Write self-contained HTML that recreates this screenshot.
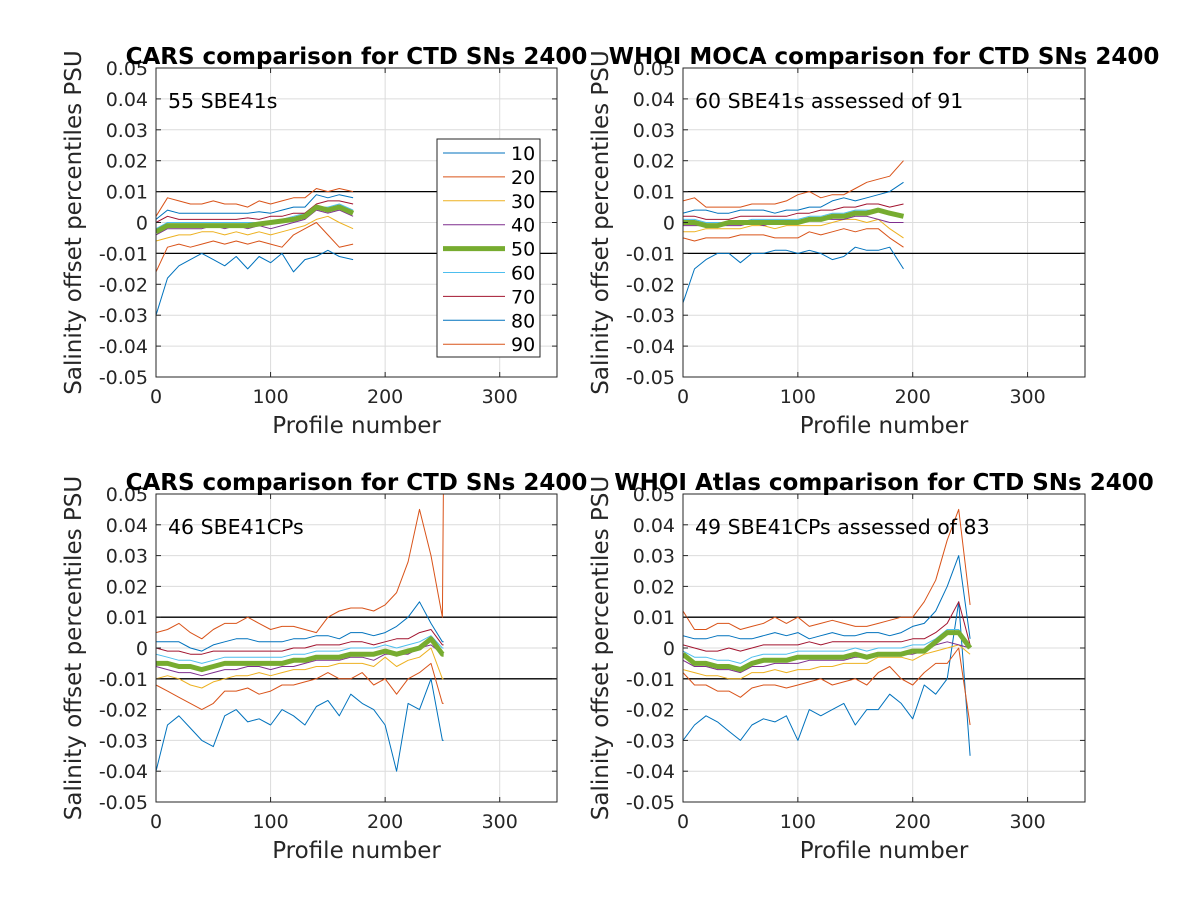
<!DOCTYPE html>
<html><head><meta charset="utf-8"><style>
html,body{margin:0;padding:0;background:#fff;}
svg{display:block;font-family:"DejaVu Sans","Liberation Sans",sans-serif;}
</style></head>
<body>
<svg id="fig" width="1200" height="900" viewBox="0 0 1200 900"></svg>
<script>
// ---------- data (units of 0.001 PSU) ----------
const pctLabels = ['10','20','30','40','50','60','70','80','90'];
const pctColors = ['#0072BD','#D95319','#EDB120','#7E2F8E','#77AC30','#4DBEEE','#A2142F','#0072BD','#D95319'];
const xTicks = [0,100,200,300];
const yTicks = [-0.05,-0.04,-0.03,-0.02,-0.01,0,0.01,0.02,0.03,0.04,0.05];
const yTickLabels = ['-0.05','-0.04','-0.03','-0.02','-0.01','0','0.01','0.02','0.03','0.04','0.05'];

const xA = [0,10,20,30,40,50,60,70,80,90,100,110,120,130,140,150,160,172];
const A10 = [-30,-18,-14,-12,-10,-12,-14,-11,-15,-11,-13,-10,-16,-12,-11,-9,-11,-12];
const A20 = [-16,-8,-7,-8,-7,-6,-7,-6,-7,-6,-7,-8,-4,-2,0,-4,-8,-7];
const A30 = [-6,-5,-4,-4,-3,-3,-4,-3,-4,-3,-4,-3,-2,-1,1,2,0,-2];
const A40 = [-4,-2,-2,-2,-2,-1,-2,-1,-2,-1,-2,-1,0,1,4,3,4,2];
const A50 = [-3,-1,-1,-1,-1,-1,-1,-1,-1,-0.5,0,0.5,1,2,5,4,5,3];
const A60 = [-2,0,0,0,0,0,0,0,0,0,0.5,1,2,3,5,5,6,4];
const A70 = [0,2,1,1,1,1,1,1,1.5,1,2,2,3,3,6,7,7,6];
const A80 = [1,4,3,3,3,3,3,3,3,3.5,3,4,5,5,9,8,9,8];
const A90 = [2,8,7,6,6,7,6,6,5,7,6,7,8,8,11,10,11,10];

const xB = [0,10,20,30,40,50,60,70,80,90,100,110,120,130,140,150,160,170,180,192];
const B10 = [-26,-15,-12,-10,-10,-13,-10,-10,-9,-9,-10,-9,-10,-12,-11,-8,-9,-9,-8,-15];
const B20 = [-5,-6,-5,-5,-5,-4,-4,-4,-5,-5,-5,-3,-4,-3,-2,-3,-2,-2,-5,-8];
const B30 = [-3,-3,-2,-2,-2,-2,-1,-1,-2,-1,-1,-1,-1,0,1,1,0,1,-2,-5];
const B40 = [-1,-1,-1,-1,-1,-1,0,-1,0,0,0,1,1,1,1,2,2,1,0,0];
const B50 = [0,0,-1,-1,0,0,0,0,0,0,0,1,1,2,2,3,3,4,3,2];
const B60 = [1,1,0,0,0,0,1,1,1,1,1,2,2,3,3,4,4,4,3,2];
const B70 = [2,2,1,1,1,2,2,2,2,2,3,3,4,4,5,5,6,6,5,6];
const B80 = [3,4,4,3,3,4,4,4,3,4,4,5,5,7,8,7,8,9,10,13];
const B90 = [7,8,5,5,5,5,6,6,6,7,9,10,8,9,9,11,13,14,15,20];

const xC = [0,10,20,30,40,50,60,70,80,90,100,110,120,130,140,150,160,170,180,190,200,210,220,230,240,250,251];
const C10 = [-40,-25,-22,-26,-30,-32,-22,-20,-24,-23,-25,-20,-22,-25,-19,-17,-22,-15,-18,-20,-25,-40,-18,-20,-10,-30,-30];
const C20 = [-12,-14,-16,-18,-20,-18,-14,-14,-13,-15,-14,-12,-12,-11,-10,-8,-10,-10,-8,-12,-10,-15,-10,-8,-5,-18,-18];
const C30 = [-10,-9,-10,-12,-13,-11,-10,-9,-9,-8,-9,-8,-7,-7,-6,-6,-5,-5,-5,-6,-3,-6,-4,-3,0,-10,-10];
const C40 = [-6,-7,-8,-8,-9,-8,-7,-7,-6,-6,-7,-6,-6,-5,-4,-4,-4,-3,-3,-4,-2,-2,-2,0,1,-2,-2];
const C50 = [-5,-5,-6,-6,-7,-6,-5,-5,-5,-5,-5,-5,-4,-4,-3,-3,-3,-2,-2,-2,-1,-2,-1,0,3,-2,-2];
const C60 = [-2,-3,-4,-4,-5,-4,-3,-3,-3,-3,-3,-3,-2,-2,-1,-1,-1,0,0,0,1,0,1,2,4,0,0];
const C70 = [0,-1,-1,-2,-2,-1,-1,-1,-1,-1,-1,-1,0,0,1,1,1,2,2,1,2,3,3,5,6,1,1];
const C80 = [2,2,2,0,-1,1,2,3,3,2,2,2,3,3,4,4,3,5,5,4,5,7,10,15,8,2,2];
const C90 = [5,6,8,5,3,6,8,8,10,8,6,7,7,6,5,10,12,13,13,12,14,18,28,45,30,10,60];

const xD = [0,10,20,30,40,50,60,70,80,90,100,110,120,130,140,150,160,170,180,190,200,210,220,230,240,250];
const D10 = [-30,-25,-22,-24,-27,-30,-25,-23,-24,-22,-30,-20,-22,-20,-18,-25,-20,-20,-15,-18,-23,-12,-15,-10,15,-35];
const D20 = [-8,-12,-12,-14,-14,-16,-13,-12,-12,-13,-12,-11,-10,-12,-11,-10,-12,-8,-6,-10,-12,-8,-5,-5,0,-25];
const D30 = [-7,-8,-9,-9,-10,-10,-8,-8,-7,-8,-7,-7,-6,-6,-5,-5,-5,-3,-3,-3,-4,-2,-1,0,1,-2];
const D40 = [-4,-6,-6,-7,-7,-8,-6,-6,-5,-5,-5,-4,-4,-4,-4,-3,-3,-2,-2,-2,-2,-1,1,2,1,0];
const D50 = [-2,-5,-5,-6,-6,-7,-5,-4,-4,-4,-3,-3,-3,-3,-3,-2,-3,-2,-2,-2,-1,-1,2,5,5,0];
const D60 = [-1,-3,-3,-4,-4,-5,-3,-2,-2,-2,-1,-1,-1,-1,-1,0,-1,0,0,0,1,1,3,6,6,1];
const D70 = [1,0,-1,-1,0,-1,0,1,1,1,1,2,1,2,2,2,2,2,2,2,3,3,5,8,15,1];
const D80 = [4,3,3,4,4,3,3,4,5,4,5,3,4,5,4,4,5,5,4,5,7,8,12,20,30,3];
const D90 = [12,6,6,8,8,6,7,8,10,8,10,7,8,9,8,7,7,8,9,10,10,15,22,35,45,14];

const panels = [
 {name:'cars-sbe41',title:'CARS comparison for CTD SNs 2400',note:'55 SBE41s',box:[156,68,557,377],x:xA,s:[A10,A20,A30,A40,A50,A60,A70,A80,A90],legend:true},
 {name:'moca-sbe41',title:'WHOI MOCA comparison for CTD SNs 2400',note:'60 SBE41s assessed of 91',box:[683,68,1085,377],x:xB,s:[B10,B20,B30,B40,B50,B60,B70,B80,B90]},
 {name:'cars-sbe41cp',title:'CARS comparison for CTD SNs 2400',note:'46 SBE41CPs',box:[156,494,557,802],x:xC,s:[C10,C20,C30,C40,C50,C60,C70,C80,C90]},
 {name:'atlas-sbe41cp',title:'WHOI Atlas comparison for CTD SNs 2400',note:'49 SBE41CPs assessed of 83',box:[683,494,1085,802],x:xD,s:[D10,D20,D30,D40,D50,D60,D70,D80,D90]}
];

const NS='http://www.w3.org/2000/svg';
const svg=document.getElementById('fig');
function mk(tag,attrs,parent){const e=document.createElementNS(NS,tag);for(const k in attrs)e.setAttribute(k,attrs[k]);(parent||svg).appendChild(e);return e;}
const defs=mk('defs',{});

panels.forEach((p,pi)=>{
  const [L,T,R,B]=p.box;
  const xS=v=>L+(v/350)*(R-L);
  const yS=v=>B-((v+0.05)/0.1)*(B-T);
  const g=mk('g',{});
  
  
  const cp=mk('clipPath',{id:'clip'+pi},defs);
  mk('rect',{x:L,y:T,width:R-L,height:B-T},cp);
  xTicks.forEach(t=>{const l=mk('line',{x1:xS(t),x2:xS(t),y1:T,y2:B,stroke:'#dcdcdc','stroke-width':1},g);
    });
  yTicks.forEach(t=>{const l=mk('line',{x1:L,x2:R,y1:yS(t),y2:yS(t),stroke:'#dcdcdc','stroke-width':1},g);
    });
  [0.01,-0.01].forEach(v=>{const l=mk('line',{x1:L,x2:R,y1:yS(v),y2:yS(v),stroke:'#000','stroke-width':1.3},g);
    });
  const order=[0,1,2,3,5,6,7,8,4];
  order.forEach(i=>{
    const d=p.s[i].map((v,k)=>(k?'L':'M')+xS(p.x[k]).toFixed(1)+' '+yS(v/1000).toFixed(1)).join(' ');
    const path=mk('path',{d:d,fill:'none',stroke:pctColors[i],'stroke-width':i===4?5:1,'stroke-linejoin':'round','clip-path':'url(#clip'+pi+')'},g);
    
    
  });
  const bx=mk('rect',{x:L,y:T,width:R-L,height:B-T,fill:'none',stroke:'#262626','stroke-width':1},g);
  
  xTicks.forEach(t=>{mk('line',{x1:xS(t),x2:xS(t),y1:B,y2:B-5,stroke:'#262626'},g);mk('line',{x1:xS(t),x2:xS(t),y1:T,y2:T+5,stroke:'#262626'},g);
    const tx=mk('text',{x:xS(t),y:B+26,'text-anchor':'middle','font-size':19,fill:'#262626'},g);tx.textContent=t;
    });
  yTicks.forEach((t,k)=>{mk('line',{x1:L,x2:L+5,y1:yS(t),y2:yS(t),stroke:'#262626'},g);mk('line',{x1:R,x2:R-5,y1:yS(t),y2:yS(t),stroke:'#262626'},g);
    const tx=mk('text',{x:L-8,y:yS(t)+7,'text-anchor':'end','font-size':19,fill:'#262626'},g);tx.textContent=yTickLabels[k];
    });
  const xl=mk('text',{x:(L+R)/2,y:B+56,'text-anchor':'middle','font-size':23,fill:'#262626'},g);xl.textContent='Profile number';
  
  const yl=mk('text',{x:0,y:0,'text-anchor':'middle','font-size':23,fill:'#262626',transform:`translate(${L-75},${(T+B)/2}) rotate(-90)`},g);yl.textContent='Salinity offset percentiles PSU';
  
  const ti=mk('text',{x:(L+R)/2,y:T-4,'text-anchor':'middle','font-size':23,'font-weight':'bold',fill:'#000'},g);ti.textContent=p.title;
  
  const nt=mk('text',{x:L+12,y:T+40,'font-size':20.5,fill:'#000'},g);nt.textContent=p.note;
  
  if(p.legend){
    const lg=mk('g',{},g);
    
    mk('rect',{x:437,y:139,width:103,height:218,fill:'#fff',stroke:'#262626','stroke-width':1},lg);
    pctLabels.forEach((lab,i)=>{
      const y=153+i*23.9;
      const e=mk('g',{},lg);
      
      mk('line',{x1:443,x2:505,y1:y,y2:y,stroke:pctColors[i],'stroke-width':i===4?5:1},e);
      const t=mk('text',{x:511,y:y+7,'font-size':19,fill:'#000'},e);t.textContent=lab;
    });
  }
});
</script>
</body></html>
